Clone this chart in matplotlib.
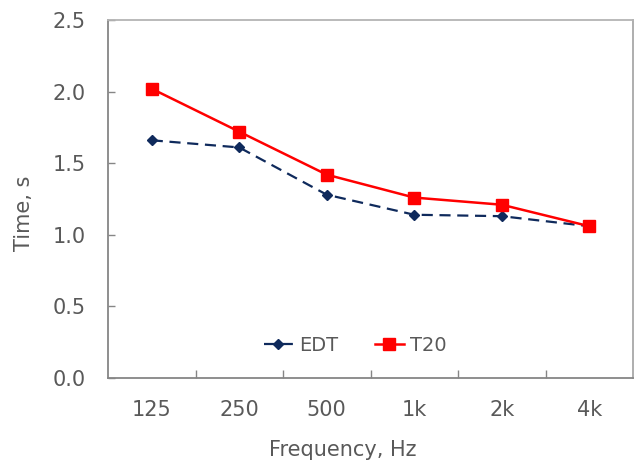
import matplotlib
matplotlib.use("Agg")
import matplotlib.pyplot as plt

bands = ["125", "250", "500", "1k", "2k", "4k"]
edt = [1.66, 1.61, 1.28, 1.14, 1.13, 1.06]
t20 = [2.02, 1.72, 1.42, 1.26, 1.21, 1.06]
yticks = [0.0, 0.5, 1.0, 1.5, 2.0, 2.5]

txt = "#595959"
plt.rcParams['font.family'] = ['DejaVu Sans']

fig = plt.figure(figsize=(6.37, 4.61), dpi=100)
ax = fig.add_axes([108/637, 83/461, 525/637, 358/461])

x = list(range(len(bands)))
ax.plot(x, edt, color="#0f2a5c", lw=1.6, ls=(0, (5, 3)), marker="D",
        markersize=5.5, label="EDT", zorder=3)
ax.plot(x, t20, color="#ff0000", lw=1.8, marker="s", markersize=8.3,
        label="T20", zorder=4)

ax.set_xlim(-0.5, len(bands) - 0.5)
ax.set_ylim(0, 2.5)
ax.set_yticks(yticks)
ax.set_yticklabels([f"{v:.1f}" for v in yticks])
ax.set_xticks(x)
ax.set_xticklabels(bands)
ax.set_xticks([i + 0.5 for i in range(len(bands) - 1)], minor=True)

ax.tick_params(axis="x", which="major", length=0, pad=15.5, labelsize=15, labelcolor=txt)
ax.tick_params(axis="x", which="minor", direction="in", length=6, width=1, color="#868686")
ax.tick_params(axis="y", direction="in", length=5, width=1, color="#868686",
               pad=16, labelsize=15, labelcolor=txt)

for side, c in [("left", "#868686"), ("bottom", "#868686"), ("top", "#b4b4b4"), ("right", "#a8a8a8")]:
    ax.spines[side].set_color(c)
    ax.spines[side].set_linewidth(1.3)

ax.set_xlabel("Frequency, Hz", fontsize=15, color=txt)
ax.xaxis.set_label_coords(0.448, -0.200)
ax.xaxis.label.set_va("center")
ax.set_ylabel("Time, s", fontsize=15, color=txt)
ax.yaxis.set_label_coords(-0.160, 0.4595)
ax.yaxis.label.set_va("center")

leg = ax.legend(loc="center", bbox_to_anchor=(0.4705, 0.092), ncol=2, frameon=False,
                fontsize=14, handlelength=1.5, handletextpad=0.3, columnspacing=1.9,
                labelcolor=txt)

fig.savefig("out.png", dpi=100)
